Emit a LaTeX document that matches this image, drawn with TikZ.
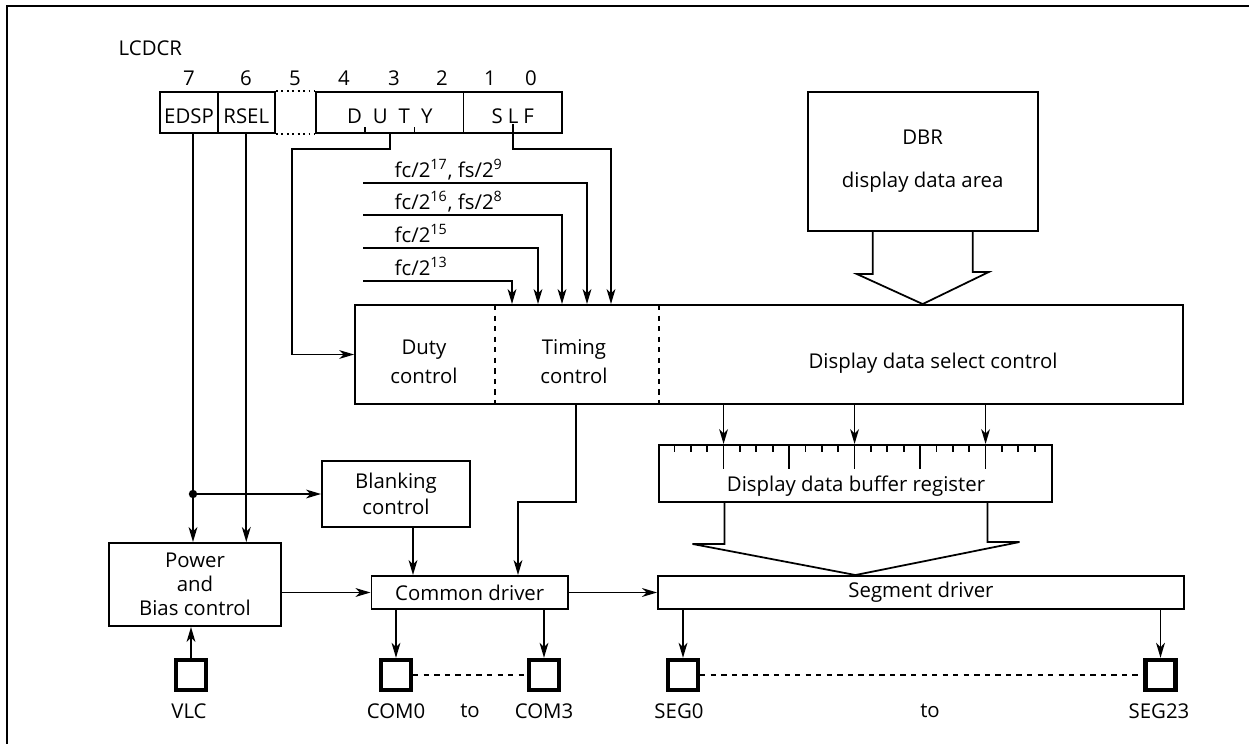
\documentclass[tikz,border=0pt]{standalone}
\usepackage{fontspec}
\setmainfont{Open Sans}
\usetikzlibrary{arrows.meta}

\begin{document}
\begin{tikzpicture}[
  x=0.02cm, y=-0.02cm,
  font=\fontsize{11.6}{13.5}\selectfont,
  line width=1pt,
  block/.style={draw, line width=1.1pt, inner sep=0pt, align=center},
  regcell/.style={draw, line width=1.1pt, inner sep=0pt, minimum height=0.82cm, text height=12.5pt, text depth=0pt},
  padbox/.style={draw, line width=2.5pt, inner sep=0pt, minimum size=0.6cm},
  >={Stealth[length=8.5pt,width=5pt,inset=2.5pt]}
]
\useasboundingbox (0,0) rectangle (1249,744);
\draw[line width=1.4pt] (7,744) -- (7,6) -- (1249,6);

\node[anchor=west] (lcdcr) at (112,48) {LCDCR};
\foreach \b/\x in {7/189,6/246,5/295,4/344,3/394,2/442,1/490,0/531}
  \node (bit\b) at (\x,78) {\b};

\node[regcell, minimum width=1.146cm] (edsp) at (189,112.5) {EDSP};
\node[regcell, minimum width=1.144cm] (rsel) at (246.3,112.5) {RSEL};
\node[regcell, minimum width=2.95cm] (dutyreg) at (389.75,112.5) {D\hspace{2.2mm}U\hspace{2.2mm}T\hspace{2.2mm}Y};
\node[regcell, minimum width=1.97cm] (slf) at (512.75,112.5) {S\hspace{1mm}L\hspace{1mm}F};
\draw[dotted, line width=1.1pt] (rsel.north east) -- (dutyreg.north west);
\draw[dotted, line width=1.1pt] (rsel.south east) -- (dutyreg.south west);
\draw (365,133) -- (365,127);
\draw (414.6,133) -- (414.6,127);

\node[block, minimum width=4.6cm, minimum height=2.78cm] (dbr) at (922.7,161.5) {DBR\\[11pt]display data area};
\node[block, minimum width=16.56cm, minimum height=1.98cm] (ctrl) at (769,354.5) {};
\coordinate (dv1) at (495,305);
\coordinate (dv2) at (659,305);
\draw[dashed] (dv1) -- (ctrl.south -| dv1);
\draw[dashed] (dv2) -- (ctrl.south -| dv2);
\node[align=center] (dutyctl) at (424,362) {Duty\\[3pt]control};
\node[align=center] (timectl) at (574,362) {Timing\\[3pt]control};
\node (selctl) at (933,363) {Display data select control};

\node[block, minimum width=7.86cm, minimum height=1.14cm] (buf) at (855.5,473.5) {};
\node (buftxt) at (856,486) {Display data buffer register};
\node[block, minimum width=2.96cm, minimum height=1.32cm] (blank) at (396,494) {Blanking\\[1pt]control};
\node[block, minimum width=3.44cm, minimum height=1.66cm] (power) at (195,584.5) {Power\\and\\Bias control};
\node[block, minimum width=3.93cm, minimum height=0.66cm] (common) at (469.7,592.5) {Common driver};
\node[block, minimum width=10.52cm, minimum height=0.66cm] (seg) at (921,592.5) {Segment driver};

\node[padbox] (vlc) at (191,675) {};
\node[padbox] (com0) at (396,675) {};
\node[padbox] (com3) at (544,675) {};
\node[padbox] (seg0) at (683,675) {};
\node[padbox] (seg23) at (1160.5,675) {};
\node (vlctxt) at (189,711) {VLC};
\node (com0txt) at (396,711) {COM0};
\node (comto) at (470,711) {to};
\node (com3txt) at (544,711) {COM3};
\node (seg0txt) at (679,711) {SEG0};
\node (segto) at (930,711) {to};
\node (seg23txt) at (1159,711) {SEG23};

\coordinate (c17) at (363,183);
\coordinate (k17) at (587,183);
\coordinate (c16) at (363,215);
\coordinate (k16) at (562,215);
\coordinate (c15) at (363,248);
\coordinate (k15) at (538,248);
\coordinate (c13) at (363,281);
\coordinate (k13) at (512,281);
\node[anchor=base west] (f17) at (388,177) {fc/2\textsuperscript{17}, fs/2\textsuperscript{9}};
\node[anchor=base west] (f16) at (388,209) {fc/2\textsuperscript{16}, fs/2\textsuperscript{8}};
\node[anchor=base west] (f15) at (388,242) {fc/2\textsuperscript{15}};
\node[anchor=base west] (f13) at (388,275) {fc/2\textsuperscript{13}};
\draw[->] (c17) -- (k17) -- (ctrl.north -| k17);
\draw[->] (c16) -- (k16) -- (ctrl.north -| k16);
\draw[->] (c15) -- (k15) -- (ctrl.north -| k15);
\draw[->] (c13) -- (k13) -- (ctrl.north -| k13);

\coordinate (sl) at (513,124);
\coordinate (sk) at (611,149);
\draw[->] (sl) |- (sk) -- (ctrl.north -| sk);
\coordinate (dk) at (292,149);
\draw[->] (dutyreg.south) |- (dk) |- (ctrl.west);

\coordinate (jn) at (193,494);
\draw[->] (edsp.south -| jn) -- (jn) -- (power.north -| jn);
\draw[->] (jn) -- (blank.west);
\fill (jn) circle[radius=2.4pt];
\draw[->] (rsel.south) -- (power.north -| rsel.south);

\draw (dbr.south) ++(-50,0) -- ++(0,42) -- ++(-16,0) -- (ctrl.north -| dbr.south) -- ++(66,-32) -- ++(-16,0) -- ++(0,-42);

\foreach \i in {1,...,23} {
  \path (buf.north west) ++(\i*16.375,0) coordinate (b\i);
  \draw (b\i) -- ++(0,8);
}
\foreach \i in {4,8,...,20}
  \draw (b\i) -- ++(0,25);
\foreach \i in {4,12,20}
  \draw[->] (ctrl.south -| b\i) -- (b\i);

\draw (buf.south) ++(-131,0) -- ++(0,41) -- ++(-32,0) -- (seg.north -| buf.south) -- ++(164,-33) -- ++(-32,0) -- ++(0,-41);

\coordinate (tm) at (576,502);
\coordinate (tk) at (518,502);
\draw[->] (ctrl.south -| tm) -- (tm) -- (tk) -- (common.north -| tk);
\coordinate (bk) at (413,527);
\draw[->] (blank.south -| bk) -- (common.north -| bk);
\draw[->] (power.east |- common) -- (common.west);
\draw[->] (common.east) -- (seg.west);

\draw[->] (vlc.north) -- (power.south -| vlc.north);
\draw[->] (common.south -| com0) -- (com0.north);
\draw[->] (common.south -| com3) -- (com3.north);
\draw[->] (seg.south -| seg0) -- (seg0.north);
\draw[->] (seg.south -| seg23) -- (seg23.north);
\draw[dashed] (com0.east) -- (com3.west);
\draw[dashed] (seg0.east) -- (seg23.west);
\end{tikzpicture}
\end{document}
